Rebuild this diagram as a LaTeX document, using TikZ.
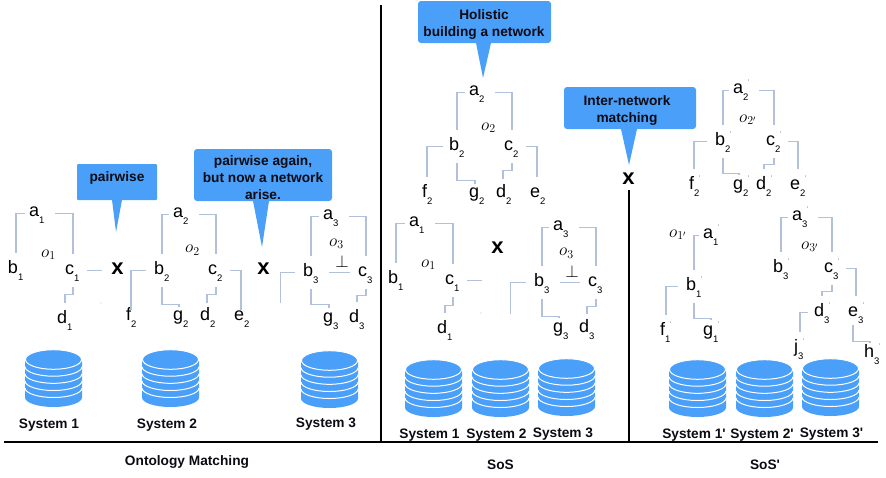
\documentclass[tikz,border=0pt]{standalone}
\usepackage{fontspec}
\setmainfont{Liberation Sans}[Ligatures=TeXOff]
\definecolor{calloutblue}{HTML}{4A9FF9}
\definecolor{linkgrey}{HTML}{B2C0DA}
\definecolor{inkdark}{HTML}{0B0B14}
\newcommand\subdig[1]{\raisebox{-7pt}{\fontsize{9.5}{9.5}\selectfont #1}}
\newcommand\prm{\raisebox{10pt}{\fontsize{5}{5}\selectfont '}}
\newcommand\lbl[5]{\node[lab] (#1) at ({#2+8},{#3-3.5}) {\makebox[32pt][l]{\hspace*{8pt}#4\subdig{#5}}};}
\newcommand\lblp[5]{\node[lab] (#1) at ({#2+8},{#3-3.5}) {\makebox[32pt][l]{\hspace*{8pt}#4\subdig{#5}\prm}};}
\newcommand\onto[4]{\node[ontolab] (#1) at (#2,#3) {\fontsize{17}{17}\selectfont$o_{#4}$};}
\newcommand\tleft[2]{\draw[link] ([xshift=4,yshift=-1]#1.west) -| (#2.north);}
\newcommand\tright[2]{\draw[link] ([xshift=2,yshift=-1]#1.east) -| (#2.north);}
\newcommand\tdown[4]{\draw[link] (#1.south) -- ++(0,#2) -| ([#4]#3.north);}
\newcommand\dbstack[2]{%
  \begin{scope}[shift={(#1,#2)}]
    \fill[calloutblue] (-28.5,11) -- (-28.5,47.5) .. controls (-28.5,52.7) and (-15.7,57) .. (0,57)
      .. controls (15.7,57) and (28.5,52.7) .. (28.5,47.5) -- (28.5,11) -- cycle;
    \foreach \c in {16.7,23.8,31,38}{
      \draw[white,line width=1] (-28.5,\c) .. controls (-28.5,{\c+5.2}) and (-15.7,{\c+9.5}) .. (0,{\c+9.5})
        .. controls (15.7,{\c+9.5}) and (28.5,{\c+5.2}) .. (28.5,\c);
    }
    \fill[calloutblue,draw=white,line width=1] (0,9.5) ellipse [x radius=28,y radius=9.8];
  \end{scope}}
\newcommand\callout[9]{%
  \fill[calloutblue,rounded corners=#9] (#1,#2) rectangle (#3,#4);
  \fill[calloutblue] (#5,#4) -- (#7,#8) -- (#6,#4) -- cycle;}
\tikzset{
  lab/.style={inner sep=0pt,text height=20pt,text depth=13pt,font=\fontsize{18}{18}\selectfont},
  ontolab/.style={inner sep=0pt,anchor=base west},
  link/.style={draw=linkgrey,line width=1.1pt},
  rule/.style={draw=black,line width=2pt},
  bold/.style={font=\bfseries\fontsize{13.7}{17}\selectfont,text=inkdark,inner sep=0pt,align=center},
  cross/.style={font=\bfseries\fontsize{22}{22}\selectfont,inner sep=0pt},
}
\begin{document}
\begin{tikzpicture}[x=1pt,y=-1pt]
\useasboundingbox (0,0) rectangle (886,477);

% frame rules
\draw[rule] (381,5) -- (381,442);
\draw[rule] (628.5,190) -- (628.5,442);
\draw[rule] (4,442) -- (878,442);

% callouts
\callout{77}{164}{157}{200}{112}{122}{116}{232}{1}
\callout{194}{149}{332}{201}{253}{269}{262}{247}{3}
\callout{418}{1}{551}{43}{476}{491}{483}{78}{3}
\callout{564}{87}{696}{129}{621}{637}{629}{165}{3}
\node[bold] (c1text) at (117,178) {pairwise};
\node[bold] (c2text) at (263,177.5) {pairwise again,\\but now a network\\arise.};
\node[bold] (c3text) at (484,24) {Holistic\\building a network};
\node[bold] (c4text) at (627,110) {Inter-network\\matching};

% Crosses
\node[cross] (xa) at (117.5,268.5) {x};
\node[cross] (xb) at (263.5,268.5) {x};
\node[cross] (xc) at (497.5,247.5) {x};
\node[cross] (xd) at (628.5,178.5) {x};

% panel A
\lbl{a1}{29}{216}{a}{1}
\lbl{b1}{8}{273}{b}{1}
\lbl{c1}{65}{274}{c}{1}
\lbl{d1}{57}{323}{d}{1}
\lbl{f2}{126}{320}{f}{2}
\lbl{a2}{173}{217}{a}{2}
\lbl{b2}{154}{274}{b}{2}
\lbl{c2}{208}{274}{c}{2}
\lbl{g2}{173}{320}{g}{2}
\lbl{d2}{200}{320}{d}{2}
\lbl{e2}{234}{320}{e}{2}
\lbl{a3}{323}{219}{a}{3}
\lbl{b3}{303}{276}{b}{3}
\lbl{c3}{358}{276}{c}{3}
\lbl{g3}{323}{322}{g}{3}
\lbl{d3}{349}{322}{d}{3}
\onto{o1}{41}{257}{1}
\onto{o2}{185}{252.5}{2}
\onto{o3}{329}{246}{3}
\node[inner sep=0pt,font=\fontsize{17}{17}\selectfont] (perpa) at (342,261) {$\perp$};

\tleft{a1}{b1}
\tright{a1}{c1}
\draw[link] ([xshift=-2]c1.east) -- ++(15,0);
\tdown{c1}{7}{d1}{}
\fill[linkgrey] (101,303) circle (0.7);
\draw[link] (b2.west) -| ([xshift=-3,yshift=-10]f2.north);
\tleft{a2}{b2}
\tright{a2}{c2}
\tdown{b2}{17}{g2}{xshift=-2,yshift=-7}
\tdown{c2}{7}{d2}{xshift=-1,yshift=-3}
\draw[link] ([xshift=-2]c2.east) -| ([xshift=-1,yshift=-10]e2.north);
\draw[link] (b3.west) -- ++(-14,0) -- ++(0,30);
\tleft{a3}{b3}
\tright{a3}{c3}
\draw[link] ([xshift=2]b3.east) -- (c3.west);
\tdown{b3}{15}{g3}{xshift=-2,yshift=-6}
\tdown{c3}{6}{d3}{}

% panel B
\lbl{sa2}{469}{95}{a}{2}
\lbl{sb2}{449}{150}{b}{2}
\lbl{sc2}{504}{150}{c}{2}
\lbl{sf2}{422}{197}{f}{2}
\lbl{sg2}{469}{197}{g}{2}
\lbl{sd2}{496}{197}{d}{2}
\lbl{se2}{530}{197}{e}{2}
\onto{so2}{481}{130}{2}
\lbl{sa1}{409}{226}{a}{1}
\lbl{sb1}{388}{283}{b}{1}
\lbl{sc1}{445}{284}{c}{1}
\lbl{sd1}{437}{333}{d}{1}
\onto{so1}{421}{267}{1}
\lbl{sa3}{553}{230}{a}{3}
\lbl{sb3}{534}{286}{b}{3}
\lbl{sc3}{588}{286}{c}{3}
\lbl{sg3}{553}{332}{g}{3}
\lbl{sd3}{579}{332}{d}{3}
\onto{so3}{559}{255.5}{3}
\node[inner sep=0pt,font=\fontsize{17}{17}\selectfont] (perpb) at (572,271) {$\perp$};

\tleft{sa2}{sb2}
\tright{sa2}{sc2}
\draw[link] ([xshift=2]sb2.west) -| ([xshift=-3]sf2.north);
\tdown{sb2}{17}{sg2}{xshift=-2,yshift=-7}
\tdown{sc2}{7}{sd2}{xshift=-1,yshift=-2}
\draw[link] ([xshift=-2]sc2.east) -| ([xshift=-1]se2.north);
\tleft{sa1}{sb1}
\tright{sa1}{sc1}
\draw[link] ([xshift=-2]sc1.east) -- ++(15,0);
\tdown{sc1}{8}{sd1}{}
\fill[linkgrey] (481,313) circle (0.7);
\draw[link] (sb3.west) -- ++(-15,0) -- ++(0,31);
\tleft{sa3}{sb3}
\tright{sa3}{sc3}
\draw[link] ([xshift=2]sb3.east) -- (sc3.west);
\tdown{sb3}{17}{sg3}{xshift=-2,yshift=-6}
\tdown{sc3}{7}{sd3}{yshift=-2}

% panel C
\lblp{ta2}{733}{93}{a}{2}
\lblp{tb2}{715}{145}{b}{2}
\lblp{tc2}{766}{145}{c}{2}
\lblp{tf2}{689}{189}{f}{2}
\lblp{tg2}{733}{189}{g}{2}
\lblp{td2}{756}{189}{d}{2}
\lblp{te2}{790}{189}{e}{2}
\onto{to2}{739}{122}{2'}
\lblp{ta1}{703}{238}{a}{1}
\lblp{tb1}{686}{290}{b}{1}
\lblp{tf1}{660}{335}{f}{1}
\lblp{tg1}{703}{335}{g}{1}
\onto{to1}{669}{237}{1'}
\lblp{ta3}{792}{220}{a}{3}
\lblp{tb3}{773}{272}{b}{3}
\lblp{tc3}{824}{272}{c}{3}
\lblp{td3}{814}{316}{d}{3}
\lblp{te3}{848}{316}{e}{3}
\lblp{tj3}{794}{352}{j}{3}
\lblp{th3}{864}{357}{h}{3}
\onto{to3}{801}{249}{3'}

\tleft{ta2}{tb2}
\tright{ta2}{tc2}
\draw[link] (tb2.west) -| ([xshift=-3]tf2.north);
\tdown{tb2}{15}{tg2}{xshift=-2,yshift=-6}
\tdown{tc2}{6}{td2}{}
\draw[link] ([xshift=-2]tc2.east) -| (te2.north);
\tleft{ta1}{tb1}
\draw[link] (tb1.west) -| ([xshift=-2]tf1.north);
\tdown{tb1}{15}{tg1}{yshift=-5}
\tleft{ta3}{tb3}
\tright{ta3}{tc3}
\tdown{tc3}{6}{td3}{}
\draw[link] ([xshift=-2]tc3.east) -| (te3.north);
\draw[link] ([xshift=2]td3.west) -| ([xshift=-2]tj3.north);
\draw[link] ([xshift=-3,yshift=4]te3.south) -- ++(0,16) -| ([xshift=-2,yshift=-6]th3.north);

% storage stacks
\dbstack{53.5}{350}
\dbstack{170.5}{350}
\dbstack{329.5}{351}
\dbstack{433.5}{360}
\dbstack{500.5}{360}
\dbstack{566.5}{359}
\dbstack{697.5}{360}
\dbstack{764.5}{360}
\dbstack{830.5}{359}

% labels
\node[bold] (s1) at (49,425) {System 1};
\node[bold] (s2) at (167,425) {System 2};
\node[bold] (s3) at (326,424) {System 3};
\node[bold] (s4) at (429.5,435.5) {System 1};
\node[bold] (s5) at (496.5,435.5) {System 2};
\node[bold] (s6) at (563,434.5) {System 3};
\node[bold] (s7) at (694,435.5) {System 1'};
\node[bold] (s8) at (762,435.5) {System 2'};
\node[bold] (s9) at (831.5,434.5) {System 3'};
\node[bold] (p1) at (187,462) {Ontology Matching};
\node[bold] (p2) at (500.5,464.5) {SoS};
\node[bold] (p3) at (765,464.5) {SoS'};
\end{tikzpicture}
\end{document}
